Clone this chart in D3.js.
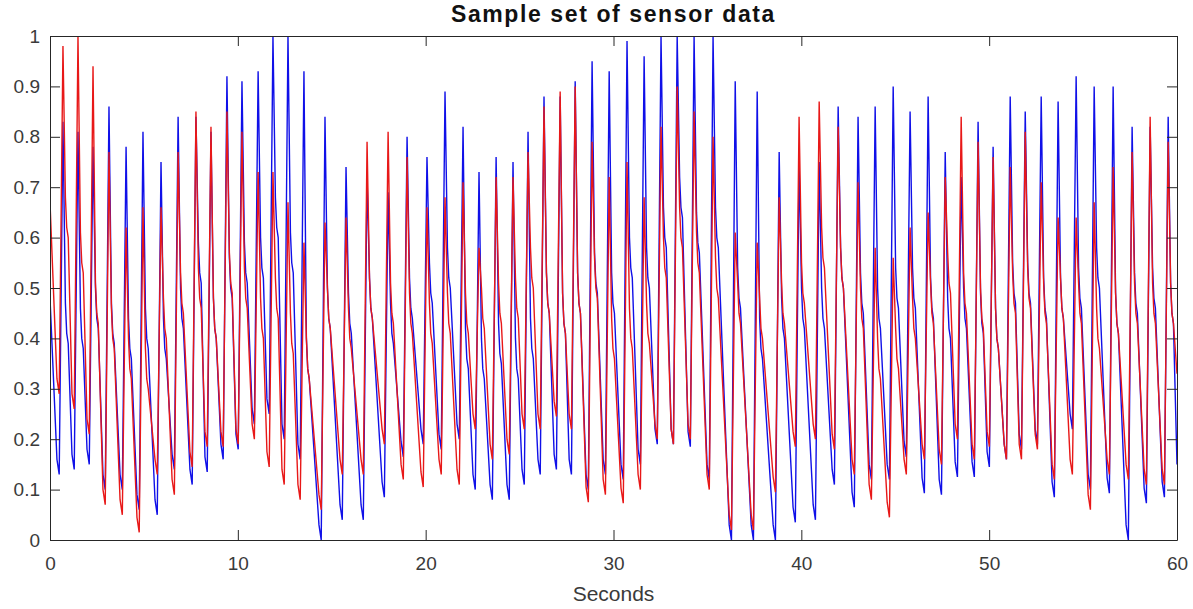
<!DOCTYPE html>
<html>
<head>
<meta charset="utf-8">
<script src="https://cdn.jsdelivr.net/npm/d3@7/dist/d3.min.js"></script>
<style>
  body { margin: 0; background: #fff; }
  text { font-family: "Liberation Sans", Arial, sans-serif; }
</style>
</head>
<body>
<svg width="1193" height="609"></svg>
<script>
// peak times (seconds) of each pulse
var peakTimes = [0.69, 1.49, 2.29, 3.14, 4.05, 4.95, 5.91, 6.82, 7.77, 8.57,
                 9.42, 10.22, 11.08, 11.87, 12.67, 13.52, 14.64, 15.76, 16.88, 18.00,
                 19.01, 20.07, 21.03, 21.99, 22.84, 23.75, 24.65, 25.45, 26.30, 27.16,
                 27.96, 28.86, 29.77, 30.72, 31.63, 32.53, 33.39, 34.29, 35.30, 36.48,
                 37.65, 38.82, 39.88, 40.95, 41.96, 43.02, 43.93, 44.89, 45.79, 46.75,
                 47.66, 48.51, 49.41, 50.21, 51.12, 51.92, 52.77, 53.67, 54.63, 55.59,
                 56.60, 57.61, 58.57, 59.53];

// blue sensor: peak, notch and trough (before the peak) of each pulse
var bluePeak = [0.83, 0.81, 0.78, 0.86, 0.78, 0.81, 0.75, 0.84, 0.84, 0.81,
                0.92, 0.91, 0.93, 1.0, 1.0, 0.93, 0.84, 0.74, 0.72, 0.69,
                0.80, 0.76, 0.89, 0.82, 0.73, 0.76, 0.75, 0.81, 0.88, 0.88,
                0.91, 0.95, 0.93, 0.99, 0.96, 1.0, 1.0, 1.0, 1.0, 0.91,
                0.89, 0.77, 0.75, 0.75, 0.86, 0.84, 0.86, 0.90, 0.85, 0.88,
                0.77, 0.72, 0.83, 0.78, 0.88, 0.85, 0.88, 0.87, 0.92, 0.90,
                0.90, 0.82, 0.82, 0.84];
var blueNotch = [0.41, 0.40, 0.44, 0.41, 0.38, 0.40, 0.38, 0.44, 0.53, 0.42,
                 0.50, 0.53, 0.54, 0.62, 0.55, 0.34, 0.44, 0.43, 0.46, 0.41,
                 0.46, 0.49, 0.52, 0.36, 0.34, 0.37, 0.34, 0.38, 0.47, 0.43,
                 0.47, 0.51, 0.47, 0.54, 0.52, 0.60, 0.66, 0.59, 0.60, 0.48,
                 0.38, 0.42, 0.44, 0.44, 0.52, 0.47, 0.44, 0.48, 0.48, 0.46,
                 0.42, 0.44, 0.43, 0.40, 0.49, 0.49, 0.46, 0.46, 0.48, 0.52,
                 0.43, 0.47, 0.48, 0.45];
var blueTrough = [0.13, 0.14, 0.15, 0.10, 0.10, 0.06, 0.05, 0.14, 0.11, 0.135,
                  0.16, 0.18, 0.23, 0.25, 0.20, 0.16, 0.0, 0.04, 0.04, 0.085,
                  0.165, 0.19, 0.18, 0.20, 0.10, 0.08, 0.08, 0.11, 0.13, 0.14,
                  0.13, 0.10, 0.13, 0.12, 0.15, 0.19, 0.19, 0.185, 0.12, 0.0,
                  0.0, 0.0, 0.035, 0.04, 0.11, 0.065, 0.12, 0.12, 0.165, 0.093,
                  0.09, 0.125, 0.125, 0.145, 0.16, 0.18, 0.19, 0.085, 0.22, 0.10,
                  0.093, 0.0, 0.073, 0.085];
var blueStart = 0.48, blueEnd = 0.15;

// red sensor
var redPeak = [0.98, 1.0, 0.94, 0.77, 0.62, 0.66, 0.66, 0.77, 0.85, 0.82,
               0.85, 0.81, 0.73, 0.73, 0.67, 0.59, 0.63, 0.64, 0.79, 0.81,
               0.76, 0.66, 0.68, 0.71, 0.58, 0.72, 0.72, 0.77, 0.86, 0.89,
               0.90, 0.79, 0.72, 0.75, 0.68, 0.82, 0.90, 0.85, 0.80, 0.61,
               0.59, 0.68, 0.84, 0.87, 0.82, 0.71, 0.58, 0.56, 0.62, 0.65,
               0.72, 0.84, 0.79, 0.76, 0.74, 0.81, 0.71, 0.64, 0.64, 0.67,
               0.74, 0.77, 0.84, 0.79];
var redNotch = [0.62, 0.55, 0.45, 0.40, 0.34, 0.32, 0.42, 0.47, 0.48, 0.42,
                0.51, 0.48, 0.42, 0.46, 0.39, 0.34, 0.44, 0.40, 0.46, 0.45,
                0.43, 0.41, 0.43, 0.43, 0.44, 0.45, 0.46, 0.52, 0.47, 0.43,
                0.47, 0.50, 0.38, 0.40, 0.41, 0.54, 0.60, 0.55, 0.50, 0.45,
                0.42, 0.45, 0.49, 0.56, 0.52, 0.44, 0.34, 0.36, 0.42, 0.45,
                0.51, 0.47, 0.44, 0.40, 0.47, 0.48, 0.45, 0.46, 0.45, 0.40,
                0.43, 0.45, 0.45, 0.45];
var redTrough = [0.29, 0.26, 0.21, 0.07, 0.05, 0.015, 0.13, 0.09, 0.145, 0.185,
                 0.185, 0.19, 0.20, 0.145, 0.11, 0.08, 0.06, 0.13, 0.13, 0.19,
                 0.12, 0.105, 0.13, 0.11, 0.22, 0.16, 0.17, 0.22, 0.22, 0.245,
                 0.22, 0.075, 0.09, 0.073, 0.10, 0.20, 0.19, 0.20, 0.10, 0.02,
                 0.02, 0.095, 0.185, 0.20, 0.18, 0.13, 0.08, 0.045, 0.13, 0.16,
                 0.15, 0.20, 0.16, 0.185, 0.16, 0.16, 0.18, 0.12, 0.13, 0.06,
                 0.13, 0.12, 0.11, 0.11];
var redStart = 0.67, redEnd = 0.33;

var xTicks = [0, 10, 20, 30, 40, 50, 60];
var yTicks = [0, 0.1, 0.2, 0.3, 0.4, 0.5, 0.6, 0.7, 0.8, 0.9, 1];

var svg = d3.select("svg"),
    plotLeft = 50, plotRight = 1177, plotTop = 36, plotBottom = 540;

var x = d3.scaleLinear().domain([0, 60]).range([plotLeft, plotRight]),
    y = d3.scaleLinear().domain([0, 1]).range([plotBottom, plotTop]);

// turn the per-pulse readings into a point list
function pulses(peak, notch, trough, startV, endV) {
    var pts = [[0, startV]];
    peakTimes.forEach(function(tp, i) {
        pts.push([tp - 0.32, trough[i] + 0.03]);
        pts.push([tp - 0.2, trough[i]]);
        pts.push([tp, peak[i]]);
        pts.push([tp + 0.13, notch[i] + 0.06]);
        pts.push([tp + 0.2, notch[i]]);
        pts.push([tp + 0.28, notch[i] - 0.02]);
    });
    pts.push([60, endV]);
    return pts.filter(function(p, i) { return i == 0 || p[0] > 0; });
}

svg.append("clipPath").attr("id", "plot")
   .append("rect")
   .attr("x", plotLeft).attr("y", plotTop)
   .attr("width", plotRight - plotLeft).attr("height", plotBottom - plotTop);

var line = d3.line()
    .x(function(d) { return x(d[0]); })
    .y(function(d) { return y(d[1]); });

var g = svg.append("g").attr("clip-path", "url(#plot)");

g.append("path")
 .datum(pulses(bluePeak, blueNotch, blueTrough, blueStart, blueEnd))
 .attr("fill", "none")
 .attr("stroke", "#1010e8")
 .attr("stroke-width", 1.4)
 .attr("d", line);

g.append("path")
 .datum(pulses(redPeak, redNotch, redTrough, redStart, redEnd))
 .attr("fill", "none")
 .attr("stroke", "#e81818")
 .attr("stroke-width", 1.4)
 .attr("d", line);

// box with inward ticks on all sides
var axisColor = "#262626";
svg.append("g").attr("transform", "translate(0," + plotBottom + ")")
   .call(d3.axisBottom(x).tickValues(xTicks).tickSizeInner(-10).tickSizeOuter(0).tickPadding(17).tickFormat(d3.format("d")));
svg.append("g").attr("transform", "translate(0," + plotTop + ")")
   .call(d3.axisTop(x).tickValues(xTicks).tickSizeInner(-10).tickSizeOuter(0).tickFormat(""));
svg.append("g").attr("transform", "translate(" + plotLeft + ",0)")
   .call(d3.axisLeft(y).tickValues(yTicks).tickSizeInner(-10).tickSizeOuter(0).tickPadding(10).tickFormat(function(d) { return d3.format("~g")(d); }));
svg.append("g").attr("transform", "translate(" + plotRight + ",0)")
   .call(d3.axisRight(y).tickValues(yTicks).tickSizeInner(-10).tickSizeOuter(0).tickFormat(""));

svg.selectAll(".domain").attr("stroke", axisColor);
svg.selectAll(".tick line").attr("stroke", axisColor);
svg.selectAll(".tick text")
   .attr("fill", "#3a3a3a")
   .style("font-size", "19px")
   .style("font-family", "'Liberation Sans', Arial, sans-serif");

svg.append("text")
   .attr("x", (plotLeft + plotRight) / 2)
   .attr("y", 22)
   .attr("text-anchor", "middle")
   .style("font-size", "23px")
   .style("font-weight", "bold")
   .style("letter-spacing", "1.6px")
   .attr("fill", "#111")
   .text("Sample set of sensor data");

svg.append("text")
   .attr("x", (plotLeft + plotRight) / 2)
   .attr("y", 601)
   .attr("text-anchor", "middle")
   .style("font-size", "21px")
   .attr("fill", "#3a3a3a")
   .text("Seconds");
</script>
</body>
</html>
